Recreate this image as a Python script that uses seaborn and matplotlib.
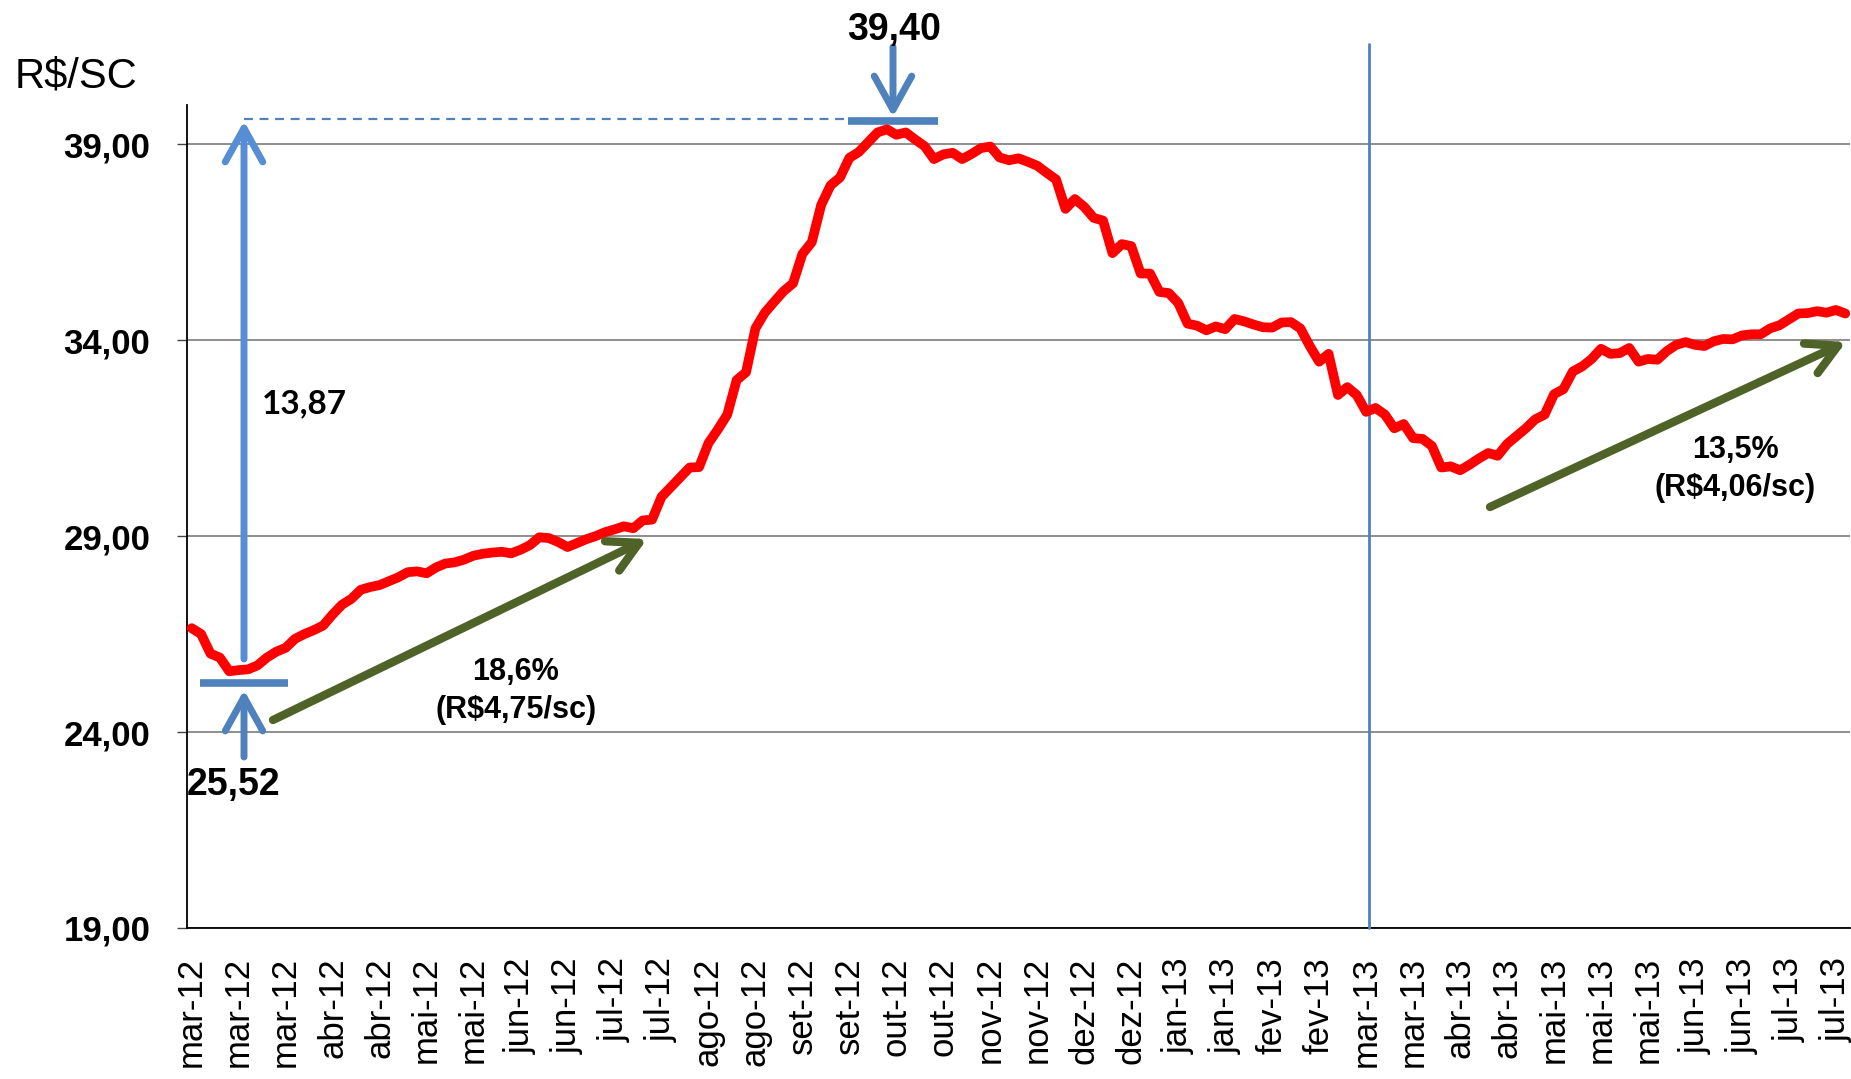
import matplotlib
matplotlib.use("Agg")
import matplotlib.pyplot as plt
import numpy as np
import pandas as pd
import seaborn as sns

# ---------------- data ----------------
tick_labels = ["mar-12", "mar-12", "mar-12", "abr-12", "abr-12", "mai-12", "mai-12",
               "jun-12", "jun-12", "jul-12", "jul-12", "ago-12", "ago-12", "set-12",
               "set-12", "out-12", "out-12", "nov-12", "nov-12", "dez-12", "dez-12",
               "jan-13", "jan-13", "fev-13", "fev-13", "mar-13", "mar-13", "abr-13",
               "abr-13", "mai-13", "mai-13", "mai-13", "jun-13", "jun-13", "jul-13", "jul-13"]
points_per_label = 5

prices = [26.65, 26.5, 26.0, 25.9, 25.55, 25.58, 25.6, 25.7, 25.9, 26.05,
          26.15, 26.38, 26.5, 26.6, 26.72, 27.0, 27.25, 27.4, 27.63, 27.7,
          27.75, 27.85, 27.95, 28.08, 28.1, 28.05, 28.2, 28.3, 28.33, 28.4,
          28.5, 28.55, 28.58, 28.6, 28.56, 28.65, 28.77, 28.97, 28.95, 28.85,
          28.72, 28.82, 28.92, 29.0, 29.1, 29.17, 29.25, 29.2, 29.4, 29.42,
          30.0, 30.25, 30.5, 30.75, 30.76, 31.37, 31.72, 32.1, 32.98, 33.18,
          34.3, 34.7, 34.98, 35.25, 35.45, 36.2, 36.5, 37.45, 37.95, 38.15,
          38.65, 38.8, 39.05, 39.3, 39.38, 39.24, 39.3, 39.12, 38.95, 38.62,
          38.74, 38.78, 38.62, 38.75, 38.9, 38.94, 38.66, 38.59, 38.64, 38.55,
          38.45, 38.27, 38.1, 37.35, 37.6, 37.4, 37.12, 37.05, 36.22, 36.45,
          36.4, 35.7, 35.7, 35.23, 35.2, 34.95, 34.42, 34.37, 34.25, 34.35,
          34.28, 34.54, 34.48, 34.4, 34.33, 34.32, 34.45, 34.46, 34.3, 33.85,
          33.45, 33.65, 32.6, 32.8, 32.6, 32.17, 32.27, 32.1, 31.75, 31.86,
          31.5, 31.48, 31.3, 30.75, 30.78, 30.68, 30.82, 30.98, 31.12, 31.05,
          31.35, 31.55, 31.75, 31.98, 32.1, 32.62, 32.75, 33.2, 33.33, 33.52,
          33.78, 33.65, 33.67, 33.8, 33.45, 33.52, 33.5, 33.72, 33.88, 33.95,
          33.88, 33.85, 33.97, 34.03, 34.02, 34.12, 34.15, 34.15, 34.3, 34.38,
          34.53, 34.68, 34.69, 34.74, 34.7, 34.77, 34.68]

y_ticks = [19, 24, 29, 34, 39]
y_tick_labels = ["19,00", "24,00", "29,00", "34,00", "39,00"]

unit_label = "R$/SC"
min_label = "25,52"
max_label = "39,40"
diff_label = "13,87"
rise1_lines = ["18,6%", "(R$4,75/sc)"]
rise2_lines = ["13,5%", "(R$4,06/sc)"]

# ---------------- style ----------------
sns.set_style("white")
plt.rcParams['font.family'] = ['Liberation Sans', 'DejaVu Sans']
plt.rcParams['text.color'] = 'black'
plt.rcParams['xtick.color'] = 'black'
plt.rcParams['ytick.color'] = 'black'
plt.rcParams['axes.labelcolor'] = 'black'

W, H = 1851, 1079
fig = plt.figure(figsize=(W / 100, H / 100), dpi=100)
ax = fig.add_axes([187 / W, 1 - 928 / H, (1850 - 187) / W, (928 - 105) / H])

df = pd.DataFrame({"idx": np.arange(len(prices)), "preco": prices})
sns.lineplot(data=df, x="idx", y="preco", ax=ax, color="#FF0000", linewidth=7,
             solid_joinstyle="round", solid_capstyle="round", zorder=5)

ax.set_xlim(-0.5, len(prices) - 0.5)
ax.set_ylim(19, 40)
ax.set_xlabel("")
ax.set_ylabel("")

ax.set_yticks(y_ticks)
ax.set_yticklabels(y_tick_labels, fontsize=25, fontweight="bold")
ax.set_xticks(np.arange(len(tick_labels)) * points_per_label)
ax.set_xticklabels(tick_labels, rotation=90, fontsize=25, va="top", ha="center")

ax.yaxis.grid(True, color="#868686", linewidth=1.3)
ax.xaxis.grid(False)
ax.set_axisbelow(True)
for s in ["top", "right"]:
    ax.spines[s].set_visible(False)
for s in ["left", "bottom"]:
    ax.spines[s].set_color("black")
    ax.spines[s].set_linewidth(1.3)
ax.tick_params(axis="y", length=7.5, width=1.0, color="#444444", pad=19, left=True)
ax.tick_params(axis="x", length=0, pad=21)


def P(px, py):
    """reference pixel position -> data coordinates"""
    return tuple(ax.transData.inverted().transform((px, H - py)))


def F(px, py):
    return (px / W, 1 - py / H)


blue_l = "#558ED5"
blue_d = "#4F81BD"
green = "#4F6228"


def arrow(start, tip, color, lw, hl=1.35, hw=0.75):
    ax.annotate("", xy=P(*tip), xytext=P(*start), xycoords="data", textcoords="data",
                annotation_clip=False,
                arrowprops=dict(arrowstyle=f"->,head_length={hl},head_width={hw}",
                                mutation_scale=18, color=color, lw=lw,
                                shrinkA=0, shrinkB=0, capstyle="round",
                                joinstyle="round", clip_on=False), zorder=6)


# vertical marker line
x0, y0 = P(1369, 44)
x1, y1 = P(1369, 928)
ax.plot([x0, x1], [y0, y1], color=blue_d, lw=2, clip_on=False, zorder=3)

# max / min markers
a, b = P(244, 119), P(848, 119)
ax.plot([a[0], b[0]], [a[1], b[1]], color=blue_d, lw=1.6, ls=(0, (4, 3)), clip_on=False, zorder=4)
a, b = P(848, 121), P(938, 121)
ax.plot([a[0], b[0]], [a[1], b[1]], color=blue_d, lw=5.5, solid_capstyle="butt", clip_on=False, zorder=4)
a, b = P(200, 683), P(288, 683)
ax.plot([a[0], b[0]], [a[1], b[1]], color=blue_d, lw=5.5, solid_capstyle="butt", clip_on=False, zorder=4)

arrow((244, 659), (244, 121), blue_l, 5)
arrow((244, 757), (244, 690), blue_d, 5)
arrow((893, 47), (893, 117), blue_d, 5)

arrow((273, 720), (647, 539), green, 6, 1.2, 0.65)
arrow((1490, 507), (1846, 342), green, 6, 1.2, 0.65)

# texts
fig.text(*F(15, 77), unit_label, fontsize=30, ha="left", va="center")
fig.text(*F(894, 40), max_label, fontsize=27, fontweight="bold", ha="center", va="baseline")
fig.text(*F(234, 795), min_label, fontsize=27, fontweight="bold", ha="center", va="baseline")
fig.text(*F(262, 413), diff_label, fontsize=24, fontweight="bold", ha="left", va="baseline",
         family=["Lato", "DejaVu Sans"])
fig.text(*F(516, 680), rise1_lines[0], fontsize=22, fontweight="bold", ha="center", va="baseline")
fig.text(*F(516, 718), rise1_lines[1], fontsize=22, fontweight="bold", ha="center", va="baseline")
fig.text(*F(1735, 458), rise2_lines[0], fontsize=22, fontweight="bold", ha="center", va="baseline")
fig.text(*F(1735, 496), rise2_lines[1], fontsize=22, fontweight="bold", ha="center", va="baseline")

fig.savefig("out.png", dpi=100)
